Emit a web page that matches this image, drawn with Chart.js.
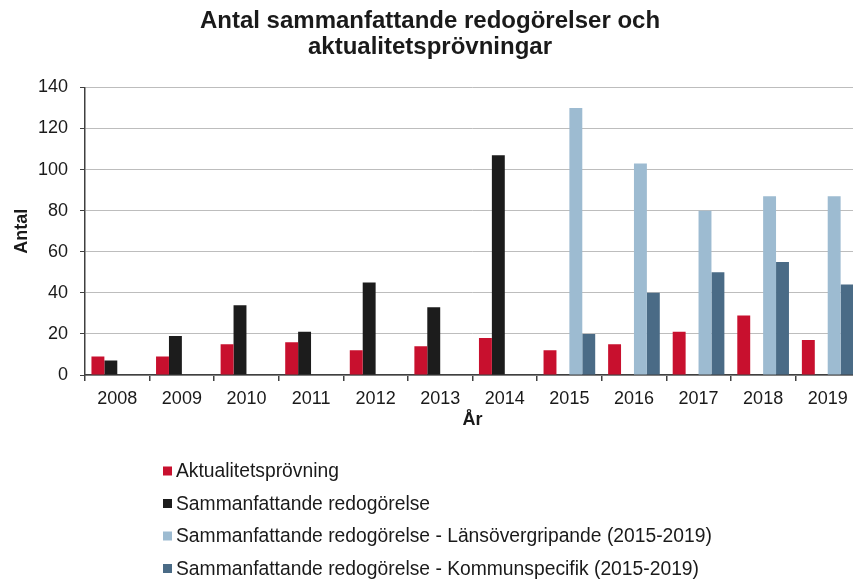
<!DOCTYPE html>
<html>
<head>
<meta charset="utf-8">
<script src="https://cdn.jsdelivr.net/npm/chart.js@4"></script>
<style>
  html, body { margin: 0; padding: 0; overflow: hidden; background: #ffffff; }
  #wrap { width: 853px; height: 580px; overflow: hidden; }
  canvas { display: block; }
</style>
</head>
<body>
<div id="wrap"><canvas id="c" width="862" height="580"></canvas></div>
<script>
const years = ['2008','2009','2010','2011','2012','2013','2014','2015','2016','2017','2018','2019'];
const aktualitet = [9, 9, 15, 16, 12, 14, 18, 12, 15, 21, 29, 17];
const sammanfattande = [7, 19, 34, 21, 45, 33, 107, null, null, null, null, null];
const lansovergripande = [null, null, null, null, null, null, null, 130, 103, 80, 87, 87];
const kommunspecifik = [null, null, null, null, null, null, null, 20, 40, 50, 55, 44];
const seriesNames = [
  'Aktualitetsprövning',
  'Sammanfattande redogörelse',
  'Sammanfattande redogörelse - Länsövergripande (2015-2019)',
  'Sammanfattande redogörelse - Kommunspecifik (2015-2019)'
];
const yTicks = [0, 20, 40, 60, 80, 100, 120, 140];
const colors = ['#c8102e', '#1c1c1c', '#9dbbd1', '#4a6b86'];

const FONT = "'Liberation Sans', Arial, sans-serif";

const listLegend = {
  id: 'listLegend',
  afterDraw(chart) {
    const ctx = chart.ctx;
    ctx.save();
    ctx.font = '19.3px ' + FONT;
    ctx.textBaseline = 'middle';
    ctx.textAlign = 'left';
    chart.data.datasets.forEach((ds, i) => {
      const y = 471 + i * 32.5;
      ctx.fillStyle = ds.backgroundColor;
      ctx.fillRect(163, y - 4.5, 9, 9);
      ctx.fillStyle = '#1a1a1a';
      ctx.fillText(ds.label, 176, y + 1);
    });
    ctx.restore();
  }
};

new Chart(document.getElementById('c'), {
  type: 'bar',
  data: {
    labels: years,
    datasets: [
      { label: seriesNames[0], data: aktualitet, backgroundColor: colors[0] },
      { label: seriesNames[1], data: sammanfattande, backgroundColor: colors[1] },
      { label: seriesNames[2], data: lansovergripande, backgroundColor: colors[2] },
      { label: seriesNames[3], data: kommunspecifik, backgroundColor: colors[3] }
    ]
  },
  options: {
    responsive: false,
    animation: false,
    categoryPercentage: 0.8,
    barPercentage: 1.0,
    layout: { padding: { left: 0, right: 2, top: 0, bottom: 145 } },
    plugins: {
      legend: { display: false },
      tooltip: { enabled: false },
      title: {
        display: true,
        text: ['Antal sammanfattande redogörelser och', 'aktualitetsprövningar'],
        font: { family: FONT, size: 24, weight: 'bold', lineHeight: 1.1 },
        color: '#1a1a1a',
        padding: { top: 8, bottom: 26.6 }
      }
    },
    scales: {
      x: {
        grid: { display: true, drawOnChartArea: false, offset: true, tickLength: 6, tickColor: '#404040', lineWidth: 1.5 },
        border: { color: '#404040', width: 1.5 },
        ticks: { font: { family: FONT, size: 18 }, color: '#1a1a1a', padding: 7, maxRotation: 0 },
        title: { display: true, text: 'År', font: { family: FONT, size: 18, weight: 'bold' }, color: '#1a1a1a', padding: { top: 4, bottom: 4 } },
        afterFit(scale) { scale.height = 60; }
      },
      y: {
        min: 0,
        max: 140,
        afterBuildTicks(scale) { scale.ticks = yTicks.map(v => ({ value: v })); },
        grid: { color: '#bdbdbd', lineWidth: 1, tickLength: 5, tickColor: '#404040' },
        border: { color: '#404040', width: 1.5 },
        ticks: { font: { family: FONT, size: 18 }, color: '#1a1a1a', padding: 12 },
        title: { display: true, text: 'Antal', font: { family: FONT, size: 18, weight: 'bold' }, color: '#1a1a1a', padding: { top: 11, bottom: 4 } },
        afterFit(scale) { scale.width = 85; }
      }
    }
  },
  plugins: [listLegend]
});
</script>
</body>
</html>
